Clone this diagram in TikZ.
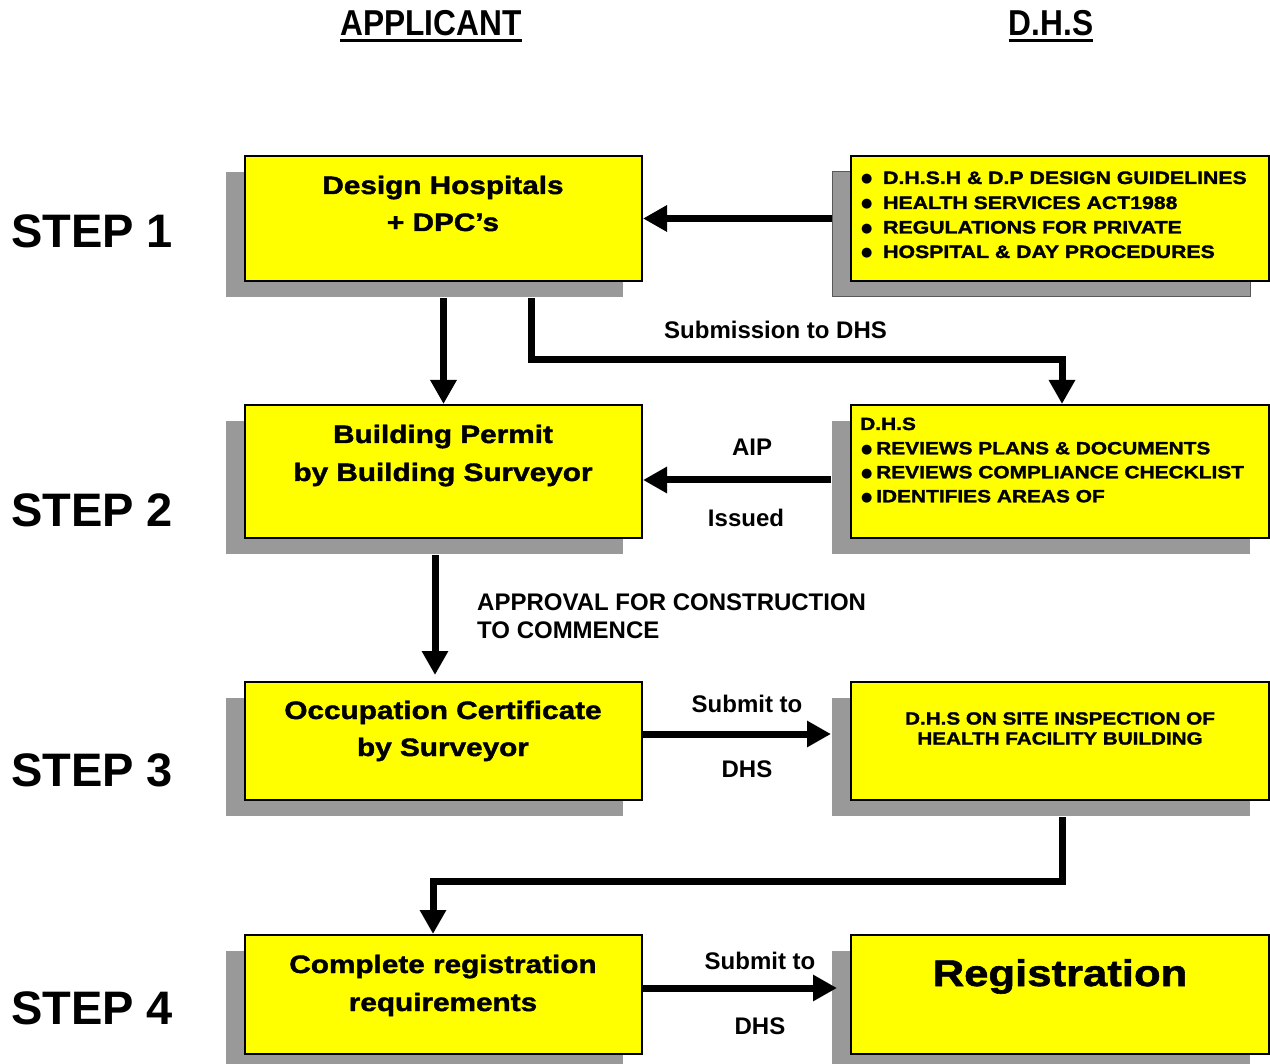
\documentclass[tikz,border=0pt]{standalone}
\usepackage{fontspec}
\setmainfont{Liberation Sans}
\newfontfamily\blk[FakeStretch=1.18,FakeBold=1.6]{Liberation Sans}
\newfontfamily\narw[FakeStretch=0.88]{Liberation Sans}
\newfontfamily\djv{DejaVu Sans}
\usetikzlibrary{arrows.meta,shadows,calc}
\definecolor{boxyellow}{HTML}{FFFF00}
\definecolor{shgray}{HTML}{999999}
\tikzset{
  box/.style={draw=black, line width=2pt, fill=boxyellow, inner sep=0pt},
  shad/.style={drop shadow={shadow xshift=-19pt,shadow yshift=-16pt,fill=shgray,opacity=1}},
  lbox/.style={box, shad, minimum width=397pt},
  rbox/.style={box, minimum width=418pt},
  flow/.style={line width=7pt, -{Triangle[length=24pt,width=25pt]}},
  bt/.style={font=\blk\bfseries\fontsize{25.2}{30}\selectfont, inner sep=0pt, anchor=base},
  st/.style={font=\blk\bfseries\fontsize{17.7}{22}\selectfont, inner sep=0pt, anchor=base west},
  stg/.style={st, font=\blk\bfseries\fontsize{18}{22}\selectfont},
  sc/.style={font=\blk\bfseries\fontsize{17.5}{20}\selectfont, inner sep=0pt, anchor=base},
  lab/.style={font=\bfseries\fontsize{24}{28}\selectfont, inner sep=0pt, anchor=base},
  steplab/.style={font=\bfseries\fontsize{47}{50}\selectfont, inner sep=0pt, anchor=base west},
  head/.style={font=\narw\bfseries\fontsize{36}{40}\selectfont, inner sep=0pt, anchor=base},
}
\newcommand{\bul}[1]{\makebox[#1][l]{\raisebox{1pt}{\djv\fontsize{13}{13}\selectfont ●}}}
\begin{document}
\begin{tikzpicture}[x=1pt,y=-1pt]
\useasboundingbox (0,0) rectangle (1270,1064);

% headers
\node[head] (hA) at (431,36) {APPLICANT};
\node[head] (hD) at (1051,36) {D.H.S};
\draw[line width=3pt] ([yshift=-4pt]hA.south west) -- ([yshift=-4pt]hA.south east);
\draw[line width=3pt] ([yshift=-4pt]hD.south west) -- ([yshift=-4pt]hD.south east);

% step labels
\node[steplab] (s1) at (11,248) {STEP 1};
\node[steplab] (s2) at (11,526) {STEP 2};
\node[steplab] (s3) at (11,786) {STEP 3};
\node[steplab] (s4) at (11,1024) {STEP 4};

% boxes
\node[lbox, minimum height=125pt] (b1) at (443.5,218.5) {};
\node[rbox, minimum height=125pt, drop shadow={shadow xshift=-19pt,shadow yshift=-16pt,fill=shgray,opacity=1,draw=black!65,line width=1pt}] (g1) at (1060,218.5) {};
\node[lbox, minimum height=133pt] (b2) at (443.5,471.5) {};
\node[rbox, shad, minimum height=133pt] (r2) at (1060,471.5) {};
\node[lbox, minimum height=118pt] (b3) at (443.5,741) {};
\node[rbox, shad, minimum height=118pt] (r3) at (1060,741) {};
\node[lbox, minimum height=119pt] (b4) at (443.5,994.5) {};
\node[rbox, shad, minimum height=119pt] (r4) at (1060,994.5) {};

% box texts
\node[bt] (b1a) at (443,194) {Design Hospitals};
\node[bt] (b1b) at (443,231) {+ DPC’s};
\node[bt] (b2a) at (443,443) {Building Permit};
\node[bt] (b2b) at (443,481) {by Building Surveyor};
\node[bt] (b3a) at (443,719) {Occupation Certificate};
\node[bt] (b3b) at (443,756) {by Surveyor};
\node[bt] (b4a) at (443,973) {Complete registration};
\node[bt] (b4b) at (443,1011) {requirements};

\node[stg] (g1a) at (861,184) {\bul{22pt}D.H.S.H \& D.P DESIGN GUIDELINES};
\node[stg] (g1b) at (861,209) {\bul{22pt}HEALTH SERVICES ACT1988};
\node[stg] (g1c) at (861,233.5) {\bul{22pt}REGULATIONS FOR PRIVATE};
\node[stg] (g1d) at (861,258) {\bul{22pt}HOSPITAL \& DAY PROCEDURES};

\node[st] (r2a) at (860,430) {D.H.S};
\node[st] (r2b) at (861,454.3) {\bul{15pt}REVIEWS PLANS \& DOCUMENTS};
\node[st] (r2c) at (861,478.3) {\bul{15pt}REVIEWS COMPLIANCE CHECKLIST};
\node[st] (r2d) at (861,502.3) {\bul{15pt}IDENTIFIES AREAS OF};

\node[sc] (r3a) at (1060,724.5) {D.H.S ON SITE INSPECTION OF};
\node[sc] (r3b) at (1060,744.5) {HEALTH FACILITY BUILDING};

\node[bt, font=\blk\bfseries\fontsize{37}{40}\selectfont] (r4a) at (1060,986) {Registration};

% connectors
\draw[flow, shorten <=18pt] (g1.west) -- (b1.east);
\draw[flow, shorten <=16pt] (b1.south) -- (b2.north);
\draw[flow, shorten <=16pt] ([xshift=87.5pt]b1.south) -- ++(0,78) -| ([xshift=2pt]r2.north);
\draw[flow, shorten <=19pt] ([yshift=-8.5pt]r2.west) -- ([yshift=-8.5pt]b2.east);
\draw[flow, shorten <=16pt, shorten >=6pt] ([xshift=-8.5pt]b2.south) -- ([xshift=-8.5pt]b3.north);
\draw[flow, shorten >=19pt] ([yshift=7pt]b3.east) -- ([yshift=7pt]r3.west);
\draw[flow, shorten <=16pt] ([xshift=2pt]r3.south) -- ++(0,80) -| ([xshift=-10.5pt]b4.north);
\draw[flow, shorten >=13pt] ([yshift=6.5pt]b4.east) -- ([yshift=6.5pt]r4.west);

% connector labels
\node[lab] (l1) at (775.5,339) {Submission to DHS};
\node[lab] (l2) at (752,456) {AIP};
\node[lab] (l3) at (746,527) {Issued};
\node[lab, anchor=base west] (l4) at (477,610) {APPROVAL FOR CONSTRUCTION};
\node[lab, anchor=base west] (l5) at (477,638) {TO COMMENCE};
\node[lab] (l6) at (747,712) {Submit to};
\node[lab] (l7) at (747,777) {DHS};
\node[lab] (l8) at (760,969) {Submit to};
\node[lab] (l9) at (760,1034) {DHS};
\end{tikzpicture}
\end{document}
